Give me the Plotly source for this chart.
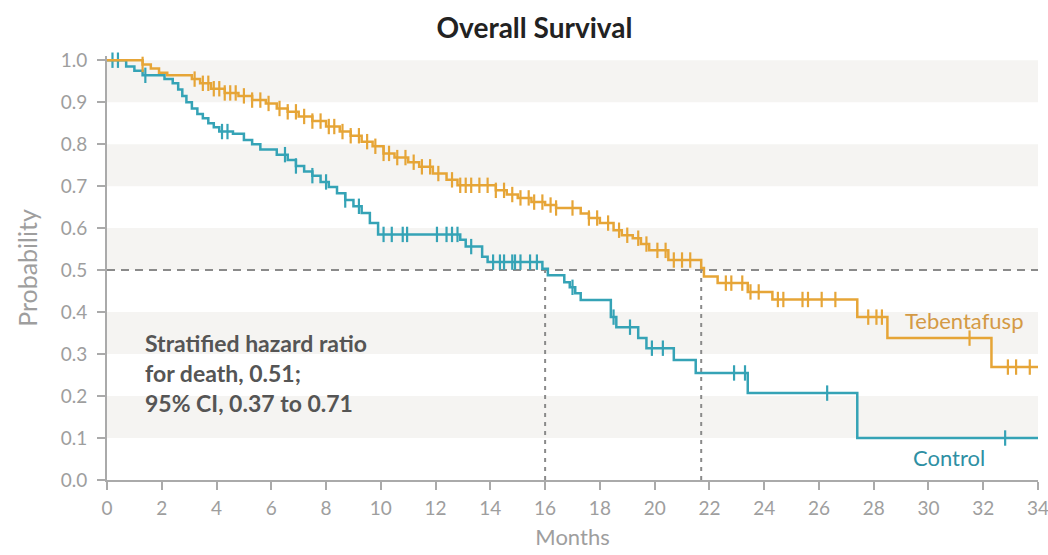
import numpy as np
import plotly.graph_objects as go

# Kaplan-Meier step data
teb_time = [0, 1.3, 1.6, 1.9, 2.2, 3.1, 3.4, 3.8, 4.3, 4.8, 5.3, 5.8, 6.2, 6.6, 7.0, 7.5, 8.0, 8.5,
            8.9, 9.3, 9.7, 10.1, 10.5, 11.0, 11.4, 11.9, 12.4, 12.8, 14.2, 14.6, 15.0, 15.5, 16.0,
            16.4, 17.3, 17.6, 18.0, 18.5, 18.8, 19.2, 19.5, 19.8, 20.5, 21.7, 21.8, 22.3, 23.4,
            24.3, 27.4, 28.5, 32.3]
teb_surv = [1.0, 0.99, 0.98, 0.97, 0.964, 0.955, 0.945, 0.932, 0.922, 0.915, 0.905, 0.897, 0.885,
            0.877, 0.866, 0.855, 0.842, 0.83, 0.82, 0.806, 0.795, 0.778, 0.768, 0.757, 0.746, 0.73,
            0.715, 0.702, 0.69, 0.68, 0.672, 0.662, 0.655, 0.648, 0.635, 0.624, 0.612, 0.595, 0.583,
            0.576, 0.562, 0.547, 0.524, 0.505, 0.485, 0.469, 0.448, 0.43, 0.388, 0.338, 0.269]
teb_censor = [1.3, 3.2, 3.5, 3.7, 3.9, 4.1, 4.3, 4.5, 4.7, 5.0, 5.3, 5.6, 5.9, 6.3, 6.6, 6.9, 7.2,
              7.5, 7.8, 8.1, 8.3, 8.6, 8.9, 9.2, 9.5, 9.8, 10.1, 10.3, 10.6, 10.9, 11.2, 11.5, 11.8,
              12.1, 12.6, 12.9, 13.1, 13.3, 13.6, 13.9, 14.2, 14.5, 14.8, 15.1, 15.4, 15.6, 15.9,
              16.2, 16.4, 17.0, 17.6, 17.9, 18.3, 18.7, 19.0, 19.4, 19.7, 20.1, 20.4, 20.7, 21.0,
              21.3, 22.6, 22.8, 23.2, 23.5, 23.8, 24.5, 24.7, 25.4, 25.6, 26.1, 26.6, 27.8, 28.1,
              28.3, 31.5, 32.9, 33.2, 33.7]

ctl_time = [0, 0.7, 1.0, 1.3, 2.1, 2.4, 2.6, 2.75, 2.9, 3.1, 3.3, 3.5, 3.7, 3.9, 4.1, 4.6, 5.0,
            5.3, 5.6, 6.2, 6.6, 6.9, 7.2, 7.5, 7.8, 8.1, 8.4, 8.7, 9.0, 9.3, 9.6, 9.9, 12.9, 13.1,
            13.7, 13.9, 15.9, 16.1, 16.7, 16.9, 17.1, 17.3, 18.4, 18.6, 19.4, 19.7, 20.7, 21.5,
            23.4, 27.4]
ctl_surv = [1.0, 0.985, 0.975, 0.964, 0.955, 0.945, 0.93, 0.915, 0.9, 0.885, 0.872, 0.862, 0.85,
            0.84, 0.83, 0.825, 0.81, 0.8, 0.787, 0.775, 0.762, 0.748, 0.735, 0.725, 0.71, 0.698,
            0.683, 0.667, 0.652, 0.636, 0.612, 0.585, 0.572, 0.556, 0.532, 0.519, 0.503, 0.488,
            0.471, 0.459, 0.445, 0.429, 0.388, 0.364, 0.338, 0.314, 0.286, 0.255, 0.207, 0.10]
ctl_censor = [0.2, 0.4, 1.4, 4.2, 4.4, 6.5, 6.9, 7.5, 8.0, 8.7, 9.2, 10.1, 10.4, 10.8, 10.96,
              12.05, 12.4, 12.6, 12.8, 13.3, 14.1, 14.35, 14.5, 14.8, 14.9, 15.1, 15.45, 15.7,
              17.0, 18.5, 19.1, 19.9, 20.3, 22.9, 23.3, 26.3, 32.8]

x_ticks = list(range(0, 35, 2))
y_ticks = [0.0, 0.1, 0.2, 0.3, 0.4, 0.5, 0.6, 0.7, 0.8, 0.9, 1.0]
median_teb = 21.7
median_ctl = 16.0

ORANGE = "#E6A537"
TEAL = "#35A3B6"
GRID_BAND = "#F5F4F2"
FONT = "Lato"


def step_value(times, surv, t):
    idx = np.searchsorted(np.array(times), np.array(t), side="right") - 1
    return np.array(surv)[idx]


fig = go.Figure()

shapes = []
for lo in [0.1, 0.3, 0.5, 0.7, 0.9]:
    shapes.append(dict(type="rect", xref="x", yref="y", x0=0, x1=34, y0=lo, y1=lo + 0.1,
                       fillcolor=GRID_BAND, line=dict(width=0), layer="below"))
shapes.append(dict(type="line", xref="x", yref="y", x0=0, x1=34, y0=0.5, y1=0.5,
                   line=dict(color="#8A8A8A", width=2, dash="8px,6px"), layer="below"))
for m in [median_ctl, median_teb]:
    shapes.append(dict(type="line", xref="x", yref="y", x0=m, x1=m, y0=0, y1=0.5,
                       line=dict(color="#8A8A8A", width=2, dash="4px,5px"), layer="below"))

for times, surv, cens, color, name in [
    (ctl_time, ctl_surv, ctl_censor, TEAL, "Control"),
    (teb_time, teb_surv, teb_censor, ORANGE, "Tebentafusp"),
]:
    xs = list(times) + [34]
    ys = list(surv) + [surv[-1]]
    fig.add_trace(go.Scatter(x=xs, y=ys, mode="lines", line=dict(color=color, width=2.5, shape="hv"),
                             name=name, showlegend=False, cliponaxis=False))
    fig.add_trace(go.Scatter(x=cens, y=step_value(times, surv, cens), mode="markers",
                             marker=dict(symbol="line-ns-open", size=11, color=color,
                                         line=dict(color=color, width=2.2)),
                             showlegend=False, cliponaxis=False))

annotations = [
    dict(x=31.3, y=0.38, xref="x", yref="y", text="Tebentafusp", showarrow=False,
         font=dict(family=FONT, size=22, color="#D49A45"), xanchor="center", yanchor="middle"),
    dict(x=30.75, y=0.053, xref="x", yref="y", text="Control", showarrow=False,
         font=dict(family=FONT, size=22, color="#2E8FA3"), xanchor="center", yanchor="middle"),
    dict(x=1.3, y=0.365, xref="x", yref="y", xanchor="left", yanchor="top", align="left",
         showarrow=False,
         text="<b>Stratified hazard ratio<br>for death, 0.51;<br>95% CI, 0.37 to 0.71</b>",
         font=dict(family=FONT, size=23, color="#555555")),
]

fig.update_layout(
    width=1048, height=555,
    margin=dict(l=107, r=10, t=56, b=75, autoexpand=False),
    plot_bgcolor="white", paper_bgcolor="white",
    title=dict(text="<b>Overall Survival</b>", x=0.51, xanchor="center", y=0.95, yanchor="middle",
               font=dict(family=FONT, size=28, color="#222222")),
    shapes=shapes, annotations=annotations,
    xaxis=dict(range=[0, 34], tickvals=x_ticks, showgrid=False, zeroline=False,
               showline=True, linecolor="#AAAAAA", linewidth=2, ticks="outside", ticklen=8,
               tickcolor="#AAAAAA", tickwidth=1.5, ticklabelstandoff=2,
               ticklabeloverflow="allow", automargin=False,
               tickfont=dict(family=FONT, size=19, color="#9E9E9E"),
               title=dict(text="Months", font=dict(family=FONT, size=22, color="#9E9E9E"),
                          standoff=12)),
    yaxis=dict(range=[0, 1.01], tickvals=y_ticks, tickformat=".1f", showgrid=False,
               zeroline=False, showline=True, linecolor="#AAAAAA", linewidth=2,
               ticks="outside", ticklen=8, tickcolor="#AAAAAA", tickwidth=1.5,
               ticklabelstandoff=6, automargin=False,
               tickfont=dict(family=FONT, size=19, color="#9E9E9E"),
               title=dict(text="Probability", font=dict(family=FONT, size=25, color="#9E9E9E"),
                          standoff=16)),
)

# remove the default page margin so the 1048x555 figure fills the window exactly
fig.write_html("out.html", config={"displayModeBar": False},
               post_script="document.body.style.margin='0';document.body.style.overflow='hidden';")
